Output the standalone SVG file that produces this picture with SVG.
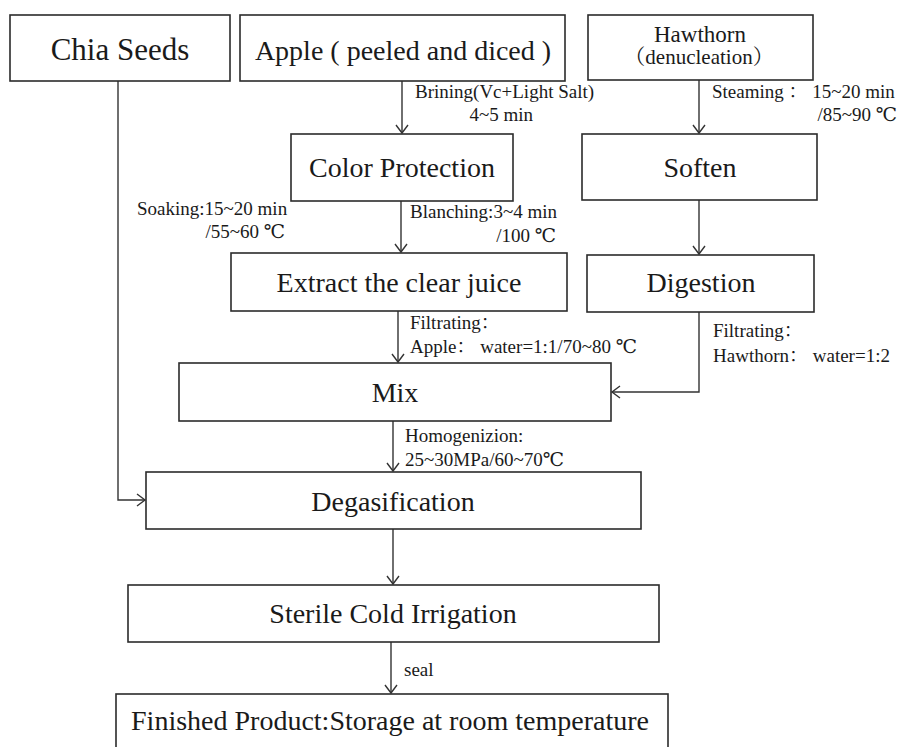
<svg xmlns="http://www.w3.org/2000/svg" width="902" height="747" viewBox="0 0 902 747">
<defs>
<style>
.box{fill:#fff;stroke:#2b2b2b;stroke-width:1.6}
.t{font-family:'Liberation Serif','Times New Roman','DejaVu Serif','Noto Serif CJK SC','Noto Sans CJK SC',serif;font-size:28px;fill:#1a1a1a;text-anchor:middle}
.l{font-family:'Liberation Serif','Times New Roman','DejaVu Serif','Noto Serif CJK SC','Noto Sans CJK SC',serif;font-size:19px;fill:#1a1a1a}
.e{text-anchor:end}
.c{fill:none;stroke:#333;stroke-width:1.4}
</style>
<marker id="ah" markerWidth="12" markerHeight="14" refX="9" refY="7" orient="auto" markerUnits="userSpaceOnUse">
<path d="M1,1 L9,7 L1,13" fill="none" stroke="#333" stroke-width="1.4"/>
</marker>
</defs>
<rect width="902" height="747" fill="#fff"/>
<g id="connectors">
<path class="c" d="M118,81 V500 H145" marker-end="url(#ah)"/>
<path class="c" d="M402,81 V133" marker-end="url(#ah)"/>
<path class="c" d="M401,201 V252" marker-end="url(#ah)"/>
<path class="c" d="M699,80 V133" marker-end="url(#ah)"/>
<path class="c" d="M699,200 V254" marker-end="url(#ah)"/>
<path class="c" d="M398,311 V362" marker-end="url(#ah)"/>
<path class="c" d="M699,312 V392 H612" marker-end="url(#ah)"/>
<path class="c" d="M393,421 V471" marker-end="url(#ah)"/>
<path class="c" d="M393,529 V584" marker-end="url(#ah)"/>
<path class="c" d="M391,642 V693" marker-end="url(#ah)"/>
<text class="l" x="415" y="98">Brining(Vc+Light Salt)</text>
<text class="l e" x="533" y="121">4~5 min</text>
<text class="l" x="712" y="98">Steaming ： 15~20 min</text>
<text class="l e" x="897" y="121">/85~90 ℃</text>
<text class="l" x="137" y="215">Soaking:15~20 min</text>
<text class="l e" x="285" y="238">/55~60 ℃</text>
<text class="l" x="410" y="218">Blanching:3~4 min</text>
<text class="l e" x="556" y="242">/100 ℃</text>
<text class="l" x="410" y="329">Filtrating：</text>
<text class="l" x="410" y="353">Apple： water=1:1/70~80 ℃</text>
<text class="l" x="713" y="337">Filtrating：</text>
<text class="l" x="713" y="362">Hawthorn： water=1:2</text>
<text class="l" x="405" y="442">Homogenizion:</text>
<text class="l" x="405" y="466">25~30MPa/60~70℃</text>
<text class="l" x="404" y="676">seal</text>
</g>
<g id="chia"><rect class="box" x="10" y="15" width="220" height="66"/><text class="t" x="120" y="60" style="font-size:31px">Chia Seeds</text></g>
<g id="apple"><rect class="box" x="240" y="15" width="325" height="66"/><text class="t" x="403" y="60">Apple ( peeled and diced )</text></g>
<g id="hawthorn"><rect class="box" x="588" y="15" width="225" height="65"/><text class="t" x="700" y="42" style="font-size:23px">Hawthorn</text><text class="t" x="699" y="64" style="font-size:21px">（denucleation）</text></g>
<g id="color"><rect class="box" x="291" y="134" width="222" height="67"/><text class="t" x="402" y="177">Color Protection</text></g>
<g id="soften"><rect class="box" x="582" y="134" width="235" height="66"/><text class="t" x="700" y="177">Soften</text></g>
<g id="extract"><rect class="box" x="231" y="253" width="336" height="58"/><text class="t" x="399" y="292">Extract the clear juice</text></g>
<g id="digestion"><rect class="box" x="587" y="255" width="227" height="57"/><text class="t" x="701" y="292">Digestion</text></g>
<g id="mix"><rect class="box" x="179" y="363" width="432" height="58"/><text class="t" x="395" y="402">Mix</text></g>
<g id="degas"><rect class="box" x="146" y="472" width="495" height="57"/><text class="t" x="393" y="511">Degasification</text></g>
<g id="sterile"><rect class="box" x="128" y="585" width="531" height="57"/><text class="t" x="393" y="623">Sterile Cold Irrigation</text></g>
<g id="finished"><rect class="box" x="116" y="694" width="552" height="70"/><text class="t" x="390" y="730">Finished Product:Storage at room temperature</text></g>
</svg>
